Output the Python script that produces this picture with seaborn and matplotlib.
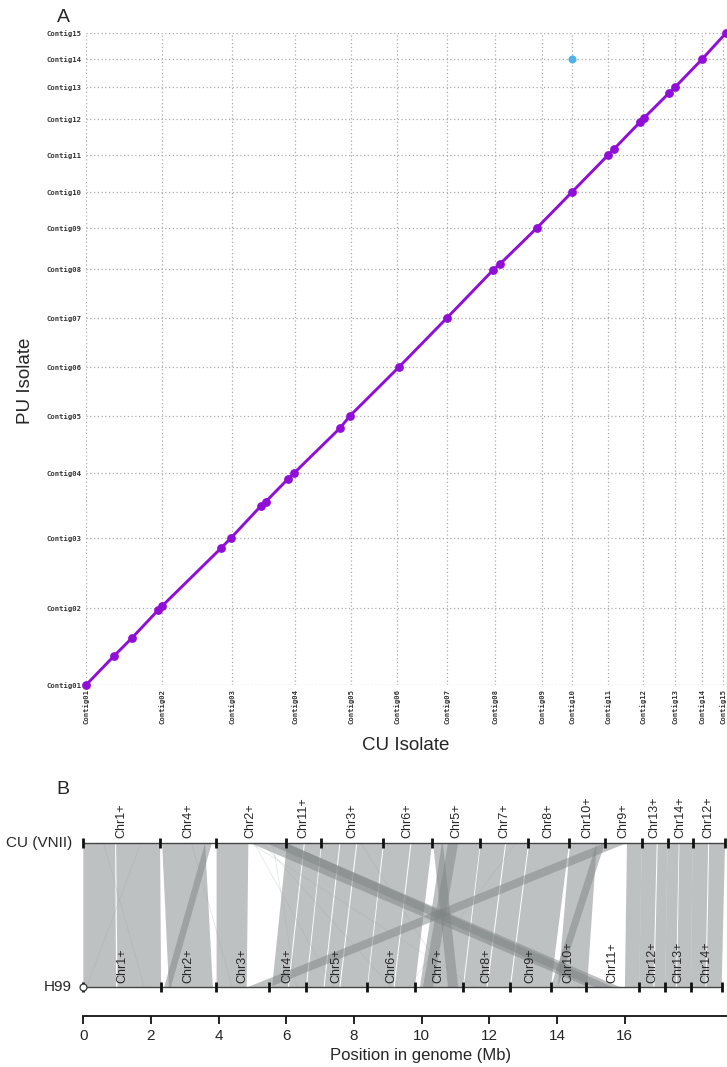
import matplotlib
matplotlib.use("Agg")
import matplotlib.pyplot as plt
import pandas as pd
import seaborn as sns

# ---------------- Panel A: dot plot, positions in Mb along the concatenated contigs
contig_names = ["Contig%02d" % i for i in range(1, 16)]
cu_contig_starts = [0, 2.26, 4.33, 6.20, 7.86, 9.23, 10.71, 12.14, 13.53, 14.42, 15.49, 16.53, 17.48, 18.28, 18.90]
pu_contig_starts = [0, 2.23, 4.26, 6.14, 7.80, 9.22, 10.64, 12.06, 13.25, 14.29, 15.36, 16.41, 17.33, 18.14, 18.90]

# forward alignment end points
fwd_cu = [0, 0.83, 1.36, 2.14, 2.26, 4.01, 4.30, 5.19, 5.33, 5.99, 6.17, 7.54, 7.83, 9.29, 10.71,
          12.08, 12.28, 13.38, 14.42, 15.49, 15.67, 16.45, 16.55, 17.30, 17.48, 18.28, 18.99]
fwd_pu = [0, 0.84, 1.36, 2.17, 2.29, 3.97, 4.26, 5.19, 5.31, 5.97, 6.14, 7.45, 7.80, 9.22, 10.64,
          12.03, 12.20, 13.25, 14.29, 15.36, 15.54, 16.33, 16.43, 17.16, 17.33, 18.14, 18.90]
# short reverse hit
rev_cu = [14.42]
rev_pu = [18.14]

# ---------------- Panel B: synteny CU (VNII) vs H99, Mb
cu_chroms = ["Chr1+", "Chr4+", "Chr2+", "Chr11+", "Chr3+", "Chr6+", "Chr5+", "Chr7+",
             "Chr8+", "Chr10+", "Chr9+", "Chr13+", "Chr14+", "Chr12+"]
cu_bounds = [0, 2.27, 3.92, 5.98, 7.03, 8.87, 10.30, 11.73, 13.15, 14.36, 15.42, 16.51, 17.27, 18.01, 18.97]
h99_chroms = ["Chr%d+" % i for i in range(1, 15)]
h99_bounds = [0, 2.30, 3.91, 5.49, 6.57, 8.39, 9.80, 11.21, 12.61, 13.82, 14.86, 16.43, 17.20, 17.96, 18.87]

# syntenic blocks: CU start/end -> H99 start/end
link_cu_start = [0.00, 0.97, 2.33, 3.60, 3.94, 4.93, 5.40, 6.02, 6.55, 7.05, 7.60, 8.10, 8.89, 9.70,
                 10.60, 10.34, 10.78, 11.75, 12.50, 13.18, 14.39, 15.18, 15.42, 16.07, 16.51, 16.98,
                 17.27, 17.62, 18.01, 18.50]
link_cu_end = [0.94, 2.27, 3.60, 3.80, 4.88, 5.99, 5.99, 6.52, 7.03, 7.57, 8.07, 8.86, 9.67, 10.31,
               11.73, 10.63, 11.08, 12.47, 13.15, 14.36, 15.18, 15.42, 16.07, 16.51, 16.95, 17.27,
               17.60, 18.01, 18.47, 18.97]
link_h99_start = [0.00, 1.01, 2.53, 2.39, 3.94, 14.92, 15.10, 5.58, 6.08, 6.61, 7.13, 7.60, 8.41, 9.20,
                  9.95, 10.78, 10.04, 11.25, 11.95, 12.64, 14.03, 13.82, 4.87, 16.01, 16.43, 16.88,
                  17.20, 17.55, 17.96, 18.42]
link_h99_end = [0.97, 2.30, 3.83, 2.59, 4.83, 15.86, 15.65, 6.05, 6.58, 7.10, 7.57, 8.39, 9.17, 9.80,
                11.22, 11.08, 10.34, 11.92, 12.61, 13.82, 14.89, 14.03, 5.52, 16.43, 16.85, 17.20,
                17.52, 17.96, 18.39, 18.87]
# tiny scattered hits (faint lines)
faint_cu = [1.70, 0.60, 5.05, 5.30, 5.60, 4.95, 8.20, 12.80, 3.20]
faint_h99 = [0.10, 1.80, 7.40, 9.10, 6.30, 11.60, 10.90, 9.60, 4.40]

axis_ticks = [0, 2, 4, 6, 8, 10, 12, 14, 16]

sns.set_theme(style="white")
plt.rcParams["font.family"] = ["Liberation Sans", "DejaVu Sans"]

W, H = 727, 1067
fig = plt.figure(figsize=(W / 100, H / 100), dpi=100)

# ---------- A
axA = fig.add_axes([86 / W, 1 - 685 / H, 641 / W, 652 / H])
df_fwd = pd.DataFrame({"cu": fwd_cu, "pu": fwd_pu})
df_rev = pd.DataFrame({"cu": rev_cu, "pu": rev_pu})
sns.lineplot(data=df_fwd, x="cu", y="pu", sort=False, estimator=None, color="#8f0fd6",
             linewidth=2.1, ax=axA, zorder=3)
sns.scatterplot(data=df_fwd, x="cu", y="pu", color="#8f0fd6", s=40, linewidth=0,
                ax=axA, zorder=4, clip_on=False)
sns.scatterplot(data=df_rev, x="cu", y="pu", color="#4fb2e4", s=34, linewidth=0,
                ax=axA, zorder=4)
axA.set_xlim(0, 19.02)
axA.set_ylim(0, 18.90)
axA.set_xticks(cu_contig_starts)
axA.set_xticklabels(contig_names, rotation=90)
axA.set_yticks(pu_contig_starts)
axA.set_yticklabels(contig_names)
for lab in axA.get_xticklabels() + axA.get_yticklabels():
    lab.set_fontfamily("DejaVu Sans Mono")
    lab.set_fontsize(5.2)
    lab.set_fontweight("bold")
    lab.set_color("#333333")
axA.tick_params(axis="both", length=0, pad=3)
axA.grid(True, linestyle=(0, (1, 2)), color="#aaaaaa", linewidth=0.9)
for sp in axA.spines.values():
    sp.set_visible(False)
axA.set_xlabel("")
axA.set_ylabel("")
fig.text(26 / W, 1 - 381 / H, "PU Isolate", rotation=90, ha="center", va="center", fontsize=13.5)
fig.text(406 / W, 1 - 745 / H, "CU Isolate", ha="center", va="center", fontsize=13.5)
fig.text(63 / W, 1 - 17 / H, "A", ha="center", va="center", fontsize=14)

# ---------- B
axB = fig.add_axes([0, 0, 1, 287 / H])
px_mb = 33.83
axB.set_xlim(-83.3 / px_mb, (W - 83.3) / px_mb)
axB.set_ylim(-80 / 144, 207 / 144)

for cs, ce, hs, he in zip(link_cu_start, link_cu_end, link_h99_start, link_h99_end):
    axB.fill([cs, ce, he, hs], [1, 1, 0, 0], color="#7f8585", alpha=0.5, lw=0, zorder=1)
for c, h in zip(faint_cu, faint_h99):
    axB.plot([c, h], [1, 0], color="#9aa0a0", alpha=0.25, lw=0.6, zorder=1)

axB.plot([cu_bounds[0], cu_bounds[-1]], [1, 1], color="#444444", lw=1.0, zorder=3)
axB.plot([h99_bounds[0], h99_bounds[-1]], [0, 0], color="#444444", lw=1.0, zorder=3)
axB.vlines(cu_bounds, 1 - 0.035, 1 + 0.035, color="#111111", lw=2.0, zorder=4)
axB.vlines(h99_bounds, -0.035, 0.035, color="#111111", lw=2.0, zorder=4)
axB.plot([h99_bounds[0]], [0], marker="o", ms=5, mfc="white", mec="#333333", mew=0.9, zorder=5)

for name, a, b in zip(cu_chroms, cu_bounds[:-1], cu_bounds[1:]):
    axB.text((a + b) / 2, 1.035, name, rotation=90, ha="center", va="bottom", fontsize=9)
for name, a, b in zip(h99_chroms, h99_bounds[:-1], h99_bounds[1:]):
    axB.text((a + b) / 2, 0.03, name, rotation=90, ha="center", va="bottom", fontsize=9, zorder=6)

axB.text(-0.33, 1, "CU (VNII)", ha="right", va="center", fontsize=11)
axB.text(-0.33, 0, "H99", ha="right", va="center", fontsize=11)
fig.text(63 / W, 1 - 790 / H, "B", ha="center", va="center", fontsize=14)

for s in ["left", "right", "top"]:
    axB.spines[s].set_visible(False)
axB.spines["bottom"].set_position(("data", -29 / 144))
axB.spines["bottom"].set_bounds(0, (W - 83.3) / px_mb)
axB.spines["bottom"].set_linewidth(1.3)
axB.spines["bottom"].set_color("#111111")
axB.set_yticks([])
axB.set_xticks(axis_ticks)
axB.set_xticklabels([str(t) for t in axis_ticks])
axB.tick_params(axis="x", length=6, width=1.3, pad=3, labelsize=11, color="#111111", bottom=True)
axB.set_xlabel("Position in genome (Mb)", fontsize=12)
axB.xaxis.set_label_coords(421 / W, 19 / 287)
axB.patch.set_alpha(0)

fig.savefig("out.png", dpi=100)
